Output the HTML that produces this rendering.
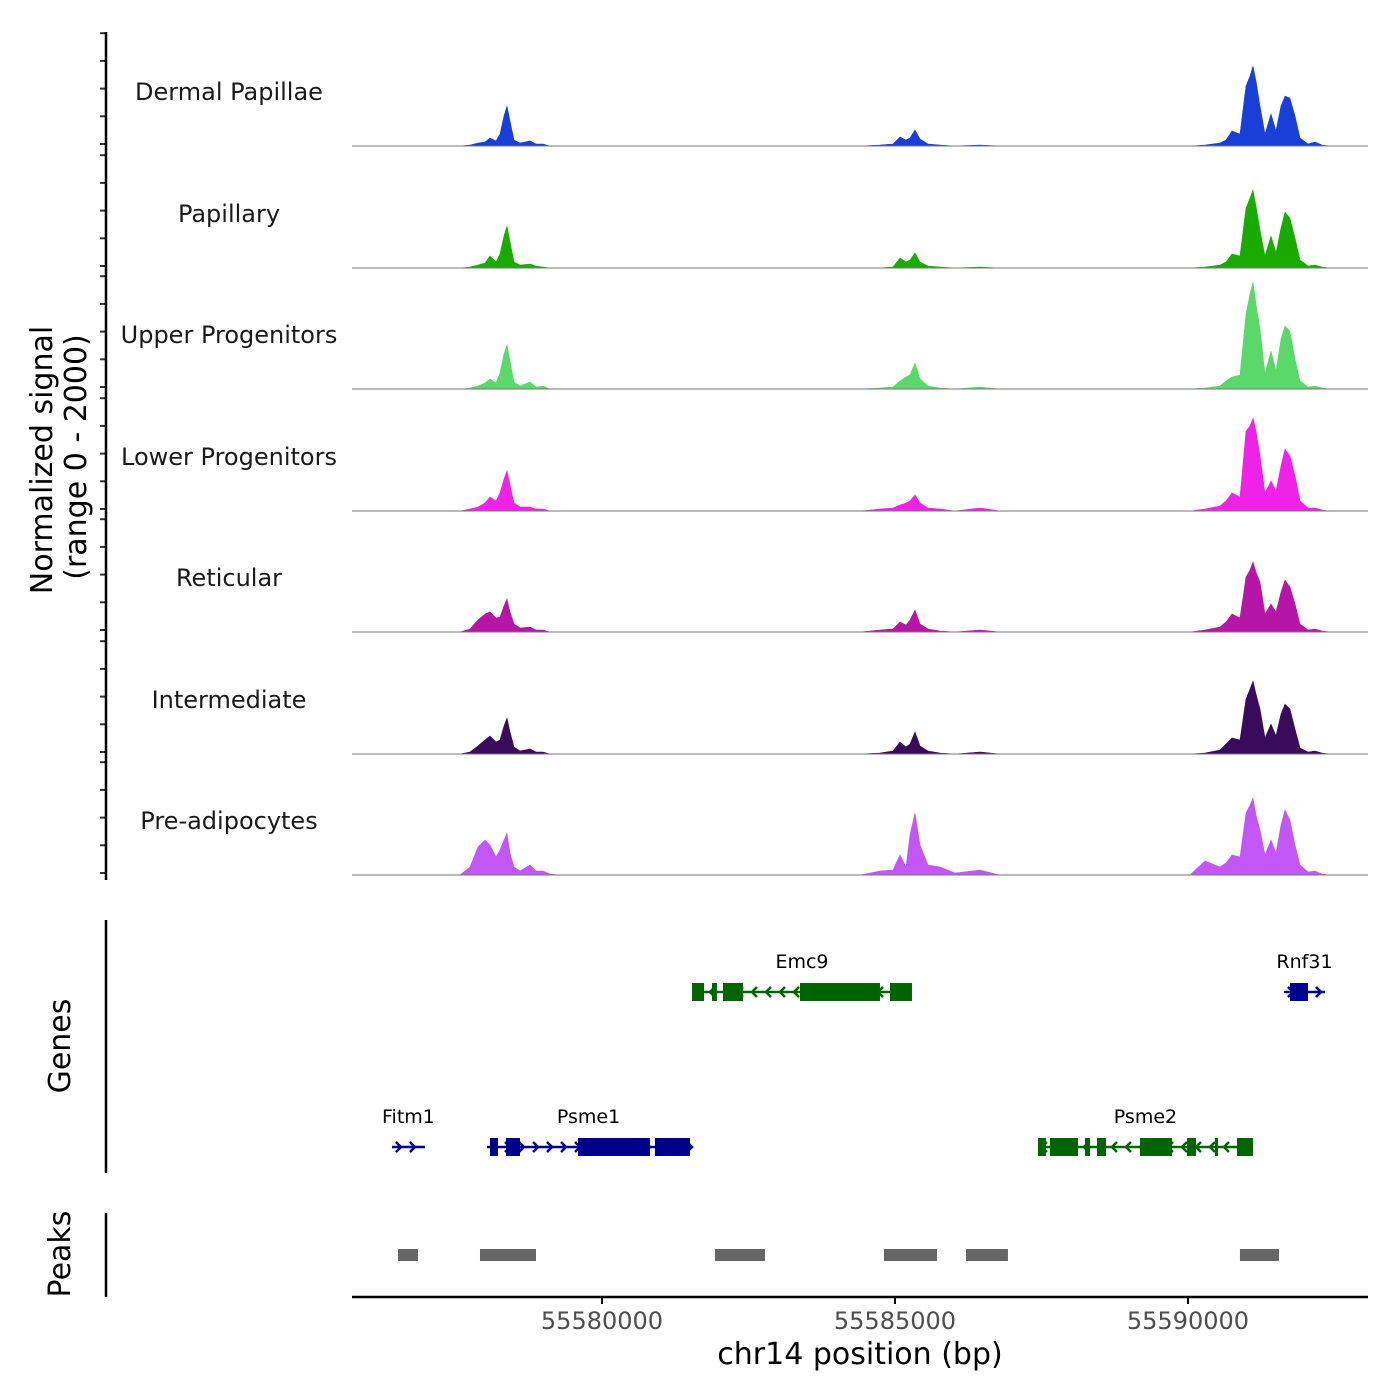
<!DOCTYPE html>
<html><head><meta charset="utf-8"><style>
body{margin:0;background:#fff;}
svg{display:block;font-family:"DejaVu Sans","Liberation Sans",sans-serif;}
</style></head><body>
<svg id="chart" width="1400" height="1400" viewBox="0 0 1400 1400" xmlns="http://www.w3.org/2000/svg">
<g id="tracks"></g>
<g id="genes"></g>
<g id="peaks"></g>
<g id="axes"></g>
</svg>
<script>
const positions=[55575734,55577577,55577748,55577884,55578004,55578089,55578191,55578259,55578328,55578379,55578430,55578498,55578601,55578771,55578874,55578993,55579113,55579283,55581672,55582440,55584403,55584744,55584966,55585085,55585188,55585256,55585341,55585427,55585563,55585768,55586024,55586451,55586792,55590034,55590290,55590546,55590648,55590751,55590887,55590990,55591058,55591109,55591160,55591229,55591314,55591416,55591502,55591587,55591655,55591740,55591826,55591911,55592048,55592167,55592287,55592423,55593072];
const groups=["Dermal Papillae","Papillary","Upper Progenitors","Lower Progenitors","Reticular","Intermediate","Pre-adipocytes"];
const groupColors=["#1a3fd8","#1aab00","#5ad86a","#f022e8","#b516a8","#3a0a5c","#c257f5"];
const sigDermal=[0,0,17,50,66,132,83,198,495,660,413,99,50,83,33,33,0,0,0,0,0,17,33,149,99,132,264,116,33,17,0,17,0,0,17,50,99,248,198,990,1155,1320,1073,660,198,528,248,660,825,792,495,132,33,66,17,0,0];
const sigPapillary=[0,0,17,50,83,198,99,231,528,693,429,99,50,66,33,17,0,0,0,0,0,0,17,165,99,132,248,99,33,17,0,17,0,0,17,50,99,231,198,990,1155,1287,1023,627,198,528,248,660,924,825,495,132,33,50,17,0,0];
const sigUpper=[0,0,17,50,99,165,99,264,578,726,462,116,50,116,33,50,0,0,0,0,0,17,33,132,198,231,429,165,50,17,0,33,0,0,17,50,132,198,231,1238,1568,1766,1403,990,248,627,297,825,1040,957,495,132,33,50,17,0,0];
const sigLower=[0,0,33,66,132,231,165,297,528,660,429,132,66,66,33,33,0,0,0,0,0,33,50,99,132,165,264,132,50,33,0,50,0,0,33,83,165,297,231,1320,1403,1535,1320,908,297,495,330,743,1023,908,578,165,50,50,17,0,0];
const sigReticular=[0,0,50,198,297,330,231,248,429,545,330,132,66,83,33,33,0,0,0,0,0,33,50,165,116,198,363,132,50,17,0,33,0,0,33,83,165,297,231,908,1023,1155,990,825,297,462,330,660,858,743,462,132,33,50,17,0,0];
const sigIntermediate=[0,0,33,132,231,297,198,231,462,594,363,116,50,83,33,33,0,0,0,0,0,17,50,198,116,165,363,132,50,17,0,33,0,0,17,66,165,264,231,908,1073,1205,990,743,264,495,297,660,825,743,413,99,33,50,17,0,0];
const sigPreadipocytes=[0,0,132,462,578,495,297,413,578,693,363,132,66,165,66,66,17,0,0,0,0,66,83,330,132,660,1023,495,165,132,33,83,0,0,231,132,198,330,297,1023,1155,1271,990,743,330,578,363,825,1073,908,495,165,50,66,17,0,0];
const signals=[sigDermal,sigPapillary,sigUpper,sigLower,sigReticular,sigIntermediate,sigPreadipocytes];
const xTicks=[55580000,55585000,55590000];
const geneNames=["Emc9","Rnf31","Fitm1","Psme1","Psme2"];
const geneStart=[55581536,55591638,55576416,55578038,55587440];
const geneEnd=[55585290,55592338,55576979,55581502,55591109];
const geneStrand=[-1,1,1,1,-1];
const geneRow=[0,0,1,1,1];
const geneExons=[
 [[55581536,55581741],[55581877,55581962],[55582065,55582406],[55583379,55584744],[55584915,55585290]],
 [[55591741,55592048]],
 [],
 [[55578089,55578225],[55578362,55578601],[55579590,55580819],[55580904,55581502]],
 [[55587440,55587577],[55587645,55588123],[55588242,55588328],[55588447,55588601],[55589181,55589727],[55589983,55590137],[55590461,55590512],[55590836,55591109]]
];
const peakStart=[55576519,55577918,55581928,55584812,55586212,55590887];
const peakEnd=[55576860,55578874,55582782,55585717,55586928,55591553];

const NS="http://www.w3.org/2000/svg";
const X0=352,X1=1368,BP0=55575734,BP1=55593072;
function xs(bp){return X0+(bp-BP0)/(BP1-BP0)*(X1-X0);}
const baselines=[146,268,389,511,632,754,875];
function ys(v,i){return baselines[i]-v/2000*121;}
function mk(tag,attrs,parent){const e=document.createElementNS(NS,tag);for(const k in attrs)e.setAttribute(k,attrs[k]);parent.appendChild(e);return e;}
const T=document.getElementById('tracks'),G=document.getElementById('genes'),P=document.getElementById('peaks'),A=document.getElementById('axes');

signals.forEach((s,i)=>{
 let d="M"+xs(positions[0])+","+baselines[i];
 s.forEach((v,j)=>{d+=" L"+xs(positions[j]).toFixed(1)+","+ys(v,i).toFixed(1);});
 d+=" L"+xs(positions[positions.length-1])+","+baselines[i]+" Z";
 const p=mk('path',{d:d,fill:groupColors[i],stroke:groupColors[i],'stroke-width':0.6},T);
 
 
 const b=mk('line',{x1:X0,x2:X1,y1:baselines[i],y2:baselines[i],stroke:'#777','stroke-width':1},T);
 
 
 const t=mk('text',{x:229,y:baselines[i]-46,'font-size':24,fill:'#1a1a1a','text-anchor':'middle'},T);
 t.textContent=groups[i];
 
 
 for(let k=0;k<=4;k++){
  const ty=baselines[i]-2-k*27.7;
  const tk=mk('line',{x1:100,x2:106,y1:ty,y2:ty,stroke:'#333','stroke-width':2},A);
  
  
 }
});

const rowY=[992,1147];
geneNames.forEach((n,i)=>{
 const col=geneStrand[i]>0?'#00008b':'#006400';
 const y=rowY[geneRow[i]];
 const g=mk('g',{},G);
 
 
 const x1=xs(geneStart[i]),x2=xs(geneEnd[i]);
 mk('line',{x1:x1,x2:x2,y1:y,y2:y,stroke:col,'stroke-width':2.5},g);
 const step=14;
 for(let x=x1+4;x<x2-2;x+=step){
  const dd=geneStrand[i]>0?`M${x},${y-5} L${x+5},${y} L${x},${y+5}`:`M${x+5},${y-5} L${x},${y} L${x+5},${y+5}`;
  mk('path',{d:dd,fill:'none',stroke:col,'stroke-width':2.5},g);
 }
 geneExons[i].forEach(e=>{mk('rect',{x:xs(e[0]),y:y-9,width:xs(e[1])-xs(e[0]),height:18,fill:col},g);});
 const t=mk('text',{x:(x1+x2)/2,y:y-24,'font-size':19,fill:'#000','text-anchor':'middle'},g);
 t.textContent=n;
});

peakStart.forEach((s,i)=>{
 const r=mk('rect',{x:xs(s),y:1249,width:xs(peakEnd[i])-xs(s),height:12,fill:'#666'},P);
 
 
});

function line(x1,y1,x2,y2,name,w){const l=mk('line',{x1:x1,y1:y1,x2:x2,y2:y2,stroke:'#000','stroke-width':w||2.5},A);}
line(106,32,106,880,'signal-y-axis');
line(106,920,106,1173,'genes-y-axis');
line(106,1213,106,1297,'peaks-y-axis');
line(352,1297,1368,1297,'x-axis-line');
xTicks.forEach(v=>{
 line(xs(v),1297,xs(v),1304,'x-tick',2);
 const t=mk('text',{x:xs(v),y:1329,'font-size':24,fill:'#4d4d4d','text-anchor':'middle'},A);
 t.textContent=v;
 
 
});
function txt(s,x,y,size,name,rot){const t=mk('text',{x:x,y:y,'font-size':size,fill:'#000','text-anchor':'middle'},A);if(rot)t.setAttribute('transform',`rotate(-90 ${x} ${y})`);t.textContent=s;}
txt('chr14 position (bp)',860,1364,30,'x-axis-title');
txt('Normalized signal',52,460,30,'y-axis-title',true);
txt('(range 0 - 2000)',86,457,30,'y-axis-subtitle',true);
txt('Genes',70,1046,30,'genes-axis-title',true);
txt('Peaks',70,1254,30,'peaks-axis-title',true);
</script>
</body></html>
